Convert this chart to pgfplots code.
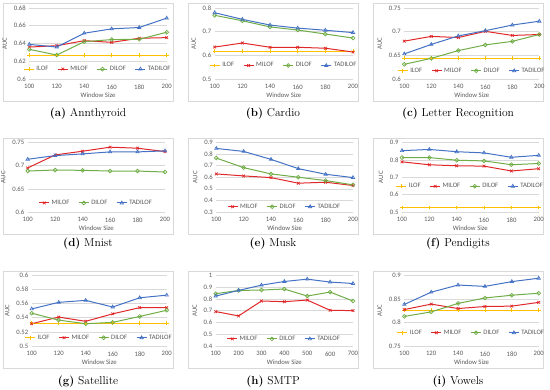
\documentclass[border=0pt]{standalone}
\usepackage{fontspec}
\usepackage{pgfplots}
\pgfplotsset{compat=1.18}
\newfontfamily\carlito{Carlito}
\definecolor{ilofc}{HTML}{FFC000}
\definecolor{milofc}{HTML}{E0282A}
\definecolor{dilofc}{HTML}{70AD47}
\definecolor{tadic}{HTML}{4472C4}
\definecolor{gridc}{HTML}{D9D9D9}
\definecolor{txtc}{HTML}{595959}
\definecolor{boxc}{HTML}{D9D9D9}
\pgfplotsset{
 panel/.style={
  scale only axis, anchor=south west, clip=false,
  axis line style={draw=none},
  tick style={draw=none},
  ymajorgrids, major grid style={gridc, line width=0.6pt},
  /pgf/number format/assume math mode=true,
  tick label style={font=\carlito\fontsize{6.7}{7}\selectfont, text=txtc},
  xticklabel style={yshift=-2pt},
  label style={font=\carlito\fontsize{6.7}{7}\selectfont, text=txtc},
  xlabel={Window Size}, ylabel={AUC},
  xlabel style={yshift=3pt},
  scaled ticks=false,
  yticklabel style={/pgf/number format/fixed,/pgf/number format/precision=2},
  xtick={100,120,140,160,180,200}, xmin=100, xmax=200,
  legend columns=-1,
  legend style={draw=none, fill=none, font=\carlito\fontsize{6.7}{7}\selectfont, text=txtc, anchor=center,
    /tikz/every even column/.append style={column sep=7pt}},
  legend image code/.code={\draw[mark repeat=2,mark phase=2] plot coordinates {(0pt,0pt) (5pt,0pt) (10pt,0pt)};},
  every axis plot/.append style={line width=1pt, mark size=1.9pt, mark options={solid, line width=0.7pt}},
 },
 ilof/.style={ilofc, mark=+},
 milof/.style={milofc, mark=x},
 dilof/.style={dilofc, mark=o},
 tadi/.style={tadic, mark=triangle},
}
\begin{document}
\begin{tikzpicture}
\useasboundingbox (0,0) rectangle (550pt,390pt);
% boxes
\foreach \bx in {3,188,373}{
  \draw[boxc, line width=0.6pt] (\bx pt,289pt) rectangle ++(170pt,98pt);
  \draw[boxc, line width=0.6pt] (\bx pt,156pt) rectangle ++(170pt,96pt);
  \draw[boxc, line width=0.6pt] (\bx pt,22pt) rectangle ++(170pt,97pt);
}
% captions
\begin{scope}[every node/.style={font=\fontsize{11.5}{13}\selectfont, anchor=center}]
\node at (88pt,276pt) {\textbf{(a)} Annthyroid};
\node at (273pt,276pt) {\textbf{(b)} Cardio};
\node at (458pt,276pt) {\textbf{(c)} Letter Recognition};
\node at (88pt,146pt) {\textbf{(d)} Mnist};
\node at (273pt,146pt) {\textbf{(e)} Musk};
\node at (458pt,146pt) {\textbf{(f)} Pendigits};
\node at (88pt,8pt) {\textbf{(g)} Satellite};
\node at (273pt,8pt) {\textbf{(h)} SMTP};
\node at (458pt,8pt) {\textbf{(i)} Vowels};
\end{scope}
% (a)
\begin{axis}[panel, at={(29.3pt,311pt)}, width=137.4pt, height=71pt,
  ymin=0.6, ymax=0.68, ytick={0.6,0.62,0.64,0.66,0.68},
  legend style={at={(0.5,0.14)}}]
\addplot[ilof] coordinates {(100,0.627)(120,0.627)(140,0.627)(160,0.627)(180,0.627)(200,0.627)};
\addplot[milof] coordinates {(100,0.636)(120,0.6375)(140,0.6432)(160,0.6413)(180,0.6459)(200,0.6466)};
\addplot[dilof] coordinates {(100,0.6334)(120,0.627)(140,0.642)(160,0.6444)(180,0.6447)(200,0.6527)};
\addplot[tadi] coordinates {(100,0.639)(120,0.636)(140,0.6516)(160,0.6565)(180,0.658)(200,0.6686)};
\legend{ILOF,MILOF,DILOF,TADILOF}
\end{axis}
% (b)
\begin{axis}[panel, at={(214.7pt,311pt)}, width=138.3pt, height=71pt,
  ymin=0.5, ymax=0.8, ytick={0.5,0.6,0.7,0.8},
  legend style={at={(0.5,0.19)}}]
\addplot[ilof] coordinates {(100,0.618)(120,0.618)(140,0.618)(160,0.618)(180,0.618)(200,0.618)};
\addplot[milof] coordinates {(100,0.635)(120,0.652)(140,0.634)(160,0.634)(180,0.630)(200,0.614)};
\addplot[dilof] coordinates {(100,0.769)(120,0.746)(140,0.720)(160,0.707)(180,0.690)(200,0.673)};
\addplot[tadi] coordinates {(100,0.780)(120,0.752)(140,0.728)(160,0.715)(180,0.706)(200,0.696)};
\legend{ILOF,MILOF,DILOF,TADILOF}
\end{axis}
% (c)
\begin{axis}[panel, at={(404.3pt,311pt)}, width=135pt, height=71pt,
  ymin=0.6, ymax=0.75, ytick={0.6,0.65,0.7,0.75},
  legend style={at={(0.5,0.115)}}]
\addplot[ilof] coordinates {(100,0.644)(120,0.644)(140,0.644)(160,0.644)(180,0.644)(200,0.644)};
\addplot[milof] coordinates {(100,0.680)(120,0.690)(140,0.6876)(160,0.7007)(180,0.692)(200,0.694)};
\addplot[dilof] coordinates {(100,0.631)(120,0.6436)(140,0.660)(160,0.672)(180,0.6795)(200,0.694)};
\addplot[tadi] coordinates {(100,0.653)(120,0.673)(140,0.691)(160,0.702)(180,0.714)(200,0.722)};
\legend{ILOF,MILOF,DILOF,TADILOF}
\end{axis}
% (d)
\begin{axis}[panel, at={(27.7pt,178pt)}, width=137.3pt, height=69.5pt,
  ymin=0.6, ymax=0.75, ytick={0.6,0.65,0.7,0.75},
  legend style={at={(0.5,0.13)}}]
\addplot[milof] coordinates {(100,0.695)(120,0.7232)(140,0.7312)(160,0.7399)(180,0.7377)(200,0.7304)};
\addplot[dilof] coordinates {(100,0.6884)(120,0.6906)(140,0.6899)(160,0.6884)(180,0.6884)(200,0.6862)};
\addplot[tadi] coordinates {(100,0.7138)(120,0.7217)(140,0.7254)(160,0.7297)(180,0.7297)(200,0.7319)};
\legend{MILOF,DILOF,TADILOF}
\end{axis}
% (e)
\begin{axis}[panel, at={(216.3pt,178pt)}, width=136.7pt, height=69.5pt,
  ymin=0.3, ymax=0.9, ytick={0.3,0.4,0.5,0.6,0.7,0.8,0.9},
  legend style={at={(0.5,0.076)}}]
\addplot[milof] coordinates {(100,0.6286)(120,0.6114)(140,0.597)(160,0.5486)(180,0.557)(200,0.5286)};
\addplot[dilof] coordinates {(100,0.7657)(120,0.6829)(140,0.6286)(160,0.600)(180,0.5714)(200,0.5343)};
\addplot[tadi] coordinates {(100,0.8486)(120,0.8229)(140,0.7543)(160,0.6743)(180,0.6257)(200,0.5971)};
\legend{MILOF,DILOF,TADILOF}
\end{axis}
% (f)
\begin{axis}[panel, at={(402pt,178pt)}, width=136.7pt, height=69.5pt,
  ymin=0.5, ymax=0.9, ytick={0.5,0.6,0.7,0.8,0.9},
  legend style={at={(0.5,0.37)}}]
\addplot[ilof] coordinates {(100,0.5264)(120,0.5264)(140,0.5264)(160,0.5264)(180,0.5264)(200,0.5264)};
\addplot[milof] coordinates {(100,0.7887)(120,0.7717)(140,0.766)(160,0.764)(180,0.736)(200,0.749)};
\addplot[dilof] coordinates {(100,0.813)(120,0.813)(140,0.798)(160,0.794)(180,0.772)(200,0.779)};
\addplot[tadi] coordinates {(100,0.853)(120,0.860)(140,0.847)(160,0.840)(180,0.815)(200,0.826)};
\legend{ILOF,MILOF,DILOF,TADILOF}
\end{axis}
% (g)
\begin{axis}[panel, at={(31.7pt,44pt)}, width=135pt, height=70.5pt,
  ymin=0.5, ymax=0.6, ytick={0.5,0.52,0.54,0.56,0.58,0.6},
  legend style={at={(0.5,0.117)}}]
\addplot[ilof] coordinates {(100,0.5326)(120,0.5326)(140,0.5326)(160,0.5326)(180,0.5326)(200,0.5326)};
\addplot[milof] coordinates {(100,0.5316)(120,0.541)(140,0.535)(160,0.5456)(180,0.5544)(200,0.5544)};
\addplot[dilof] coordinates {(100,0.5465)(120,0.5367)(140,0.5316)(160,0.5335)(180,0.5419)(200,0.5507)};
\addplot[tadi] coordinates {(100,0.5526)(120,0.5619)(140,0.5647)(160,0.5553)(180,0.5684)(200,0.5721)};
\legend{ILOF,MILOF,DILOF,TADILOF}
\end{axis}
% (h)
\begin{axis}[panel, at={(215.7pt,44pt)}, width=137.3pt, height=70.5pt,
  xmin=100, xmax=700, xtick={100,200,300,400,500,600,700},
  ymin=0.4, ymax=1, ytick={0.4,0.5,0.6,0.7,0.8,0.9,1},
  legend style={at={(0.5,0.1)}}]
\addplot[milof] coordinates {(100,0.693)(200,0.656)(300,0.783)(400,0.777)(500,0.791)(600,0.704)(700,0.701)};
\addplot[dilof] coordinates {(100,0.845)(200,0.873)(300,0.876)(400,0.885)(500,0.825)(600,0.859)(700,0.783)};
\addplot[tadi] coordinates {(100,0.825)(200,0.873)(300,0.918)(400,0.949)(500,0.969)(600,0.944)(700,0.932)};
\legend{MILOF,DILOF,TADILOF}
\end{axis}
% (i)
\begin{axis}[panel, at={(404.3pt,44pt)}, width=134.4pt, height=70.5pt,
  ymin=0.75, ymax=0.9, ytick={0.75,0.8,0.85,0.9},
  legend style={at={(0.5,0.188)}}]
\addplot[ilof] coordinates {(100,0.826)(120,0.826)(140,0.826)(160,0.826)(180,0.826)(200,0.826)};
\addplot[milof] coordinates {(100,0.8275)(120,0.8391)(140,0.8297)(160,0.834)(180,0.8348)(200,0.8428)};
\addplot[dilof] coordinates {(100,0.813)(120,0.8225)(140,0.8406)(160,0.8522)(180,0.858)(200,0.8623)};
\addplot[tadi] coordinates {(100,0.8384)(120,0.8645)(140,0.8797)(160,0.8768)(180,0.887)(200,0.8942)};
\legend{ILOF,MILOF,DILOF,TADILOF}
\end{axis}
\end{tikzpicture}
\end{document}
